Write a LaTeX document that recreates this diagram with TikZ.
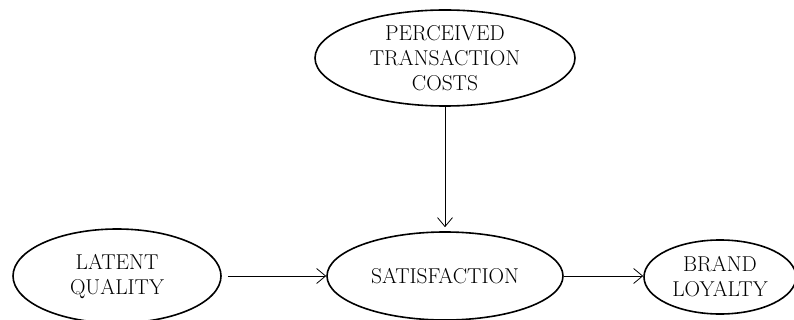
\documentclass[tikz,border=0pt]{standalone}
\usetikzlibrary{shapes.geometric,arrows.meta}
\tikzset{construct/.style={draw,ellipse,line width=1.6pt,inner sep=0pt,align=center,font=\fontsize{21.5}{25}\selectfont}}
\begin{document}
\begin{tikzpicture}[x=1pt,y=-1pt,>={Straight Barb[length=9pt,width=15pt]}]
\useasboundingbox(0,0)rectangle(794,320);
\node[construct,minimum width=260pt,minimum height=96pt](ptc)at(445,58){PERCEIVED\\TRANSACTION\\COSTS};
\node[construct,minimum width=208pt,minimum height=94pt](lq)at(117,276){LATENT\\QUALITY};
\node[construct,minimum width=236pt,minimum height=88pt](sat)at(445,276){SATISFACTION};
\node[construct,minimum width=152pt,minimum height=74pt](bl)at(720,277){BRAND\\LOYALTY};
\draw[->,line width=.8pt,shorten >=4pt](ptc)--(sat);
\draw[->,line width=.8pt,shorten <=6pt](lq.east)--(sat.west);
\draw[->,line width=.8pt](sat.east)--(bl.west|-sat.east);
\end{tikzpicture}
\end{document}
